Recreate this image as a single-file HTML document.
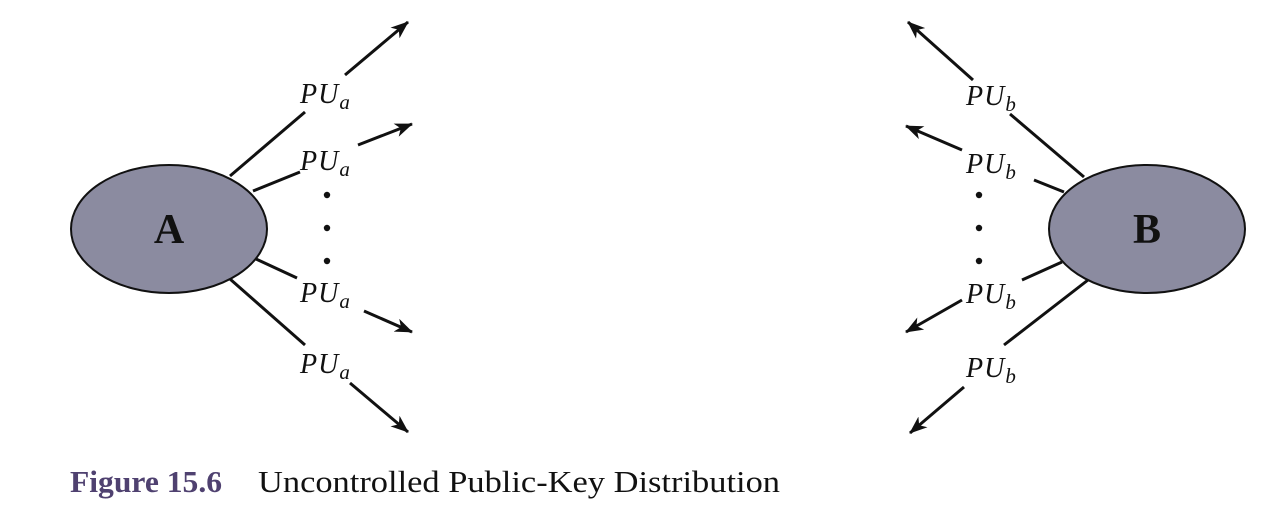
<!DOCTYPE html>
<html><head><meta charset="utf-8"><style>
html,body{margin:0;padding:0;background:#fff;}
svg{display:block;}
</style></head><body>
<svg width="1268" height="524" viewBox="0 0 1268 524" xmlns="http://www.w3.org/2000/svg">
<defs>
<marker id="ah" markerWidth="18" markerHeight="14" refX="17" refY="7" orient="auto" markerUnits="userSpaceOnUse" viewBox="0 0 18 14">
<path d="M0,0 L18,7 L0,14 L5,7 Z" fill="#111"/>
</marker>
</defs>
<g stroke="#111" stroke-width="3" fill="none">
<line x1="230" y1="176" x2="305" y2="112"/>
<line x1="345" y1="75" x2="408" y2="22" marker-end="url(#ah)"/>
<line x1="253" y1="191" x2="300" y2="172"/>
<line x1="358" y1="145" x2="412" y2="124" marker-end="url(#ah)"/>
<line x1="256" y1="259" x2="297" y2="278"/>
<line x1="364" y1="311" x2="412" y2="332" marker-end="url(#ah)"/>
<line x1="230" y1="279" x2="305" y2="345"/>
<line x1="350" y1="383" x2="408" y2="432" marker-end="url(#ah)"/>
<line x1="1084" y1="177" x2="1010" y2="114"/>
<line x1="973" y1="80" x2="908" y2="22" marker-end="url(#ah)"/>
<line x1="1064" y1="192" x2="1034" y2="180"/>
<line x1="962" y1="150" x2="906" y2="126" marker-end="url(#ah)"/>
<line x1="1062" y1="262" x2="1022" y2="280"/>
<line x1="962" y1="300" x2="906" y2="332" marker-end="url(#ah)"/>
<line x1="1088" y1="280" x2="1004" y2="345"/>
<line x1="964" y1="387" x2="910" y2="433" marker-end="url(#ah)"/>
</g>
<g fill="#111">
<circle cx="327" cy="195" r="3.2"/><circle cx="327" cy="228" r="3.2"/><circle cx="327" cy="261" r="3.2"/>
<circle cx="979" cy="195" r="3.2"/><circle cx="979" cy="228" r="3.2"/><circle cx="979" cy="261" r="3.2"/>
</g>
<ellipse cx="169" cy="229" rx="98" ry="64" fill="#8b8ba0" stroke="#111" stroke-width="2"/>
<ellipse cx="1147" cy="229" rx="98" ry="64" fill="#8b8ba0" stroke="#111" stroke-width="2"/>
<g font-family="Liberation Serif, serif" font-weight="bold" font-size="42" fill="#111" text-anchor="middle">
<text x="169" y="243">A</text>
<text x="1147" y="243">B</text>
</g>
<g font-family="Liberation Serif, serif" font-style="italic" font-size="28" fill="#111">
<text x="300" y="103" letter-spacing="1">PU<tspan font-size="21" dy="6">a</tspan></text>
<text x="300" y="170" letter-spacing="1">PU<tspan font-size="21" dy="6">a</tspan></text>
<text x="300" y="302" letter-spacing="1">PU<tspan font-size="21" dy="6">a</tspan></text>
<text x="300" y="373" letter-spacing="1">PU<tspan font-size="21" dy="6">a</tspan></text>
<text x="966" y="105" letter-spacing="1">PU<tspan font-size="21" dy="6">b</tspan></text>
<text x="966" y="173" letter-spacing="1">PU<tspan font-size="21" dy="6">b</tspan></text>
<text x="966" y="303" letter-spacing="1">PU<tspan font-size="21" dy="6">b</tspan></text>
<text x="966" y="377" letter-spacing="1">PU<tspan font-size="21" dy="6">b</tspan></text>
</g>
<text x="70" y="492" font-family="Liberation Serif, serif" font-weight="bold" font-size="31" fill="#4f4170" textLength="152" lengthAdjust="spacingAndGlyphs">Figure 15.6</text>
<text x="258" y="492" font-family="Liberation Serif, serif" font-size="31" fill="#111" textLength="522" lengthAdjust="spacingAndGlyphs">Uncontrolled Public-Key Distribution</text>
</svg>
</body></html>
